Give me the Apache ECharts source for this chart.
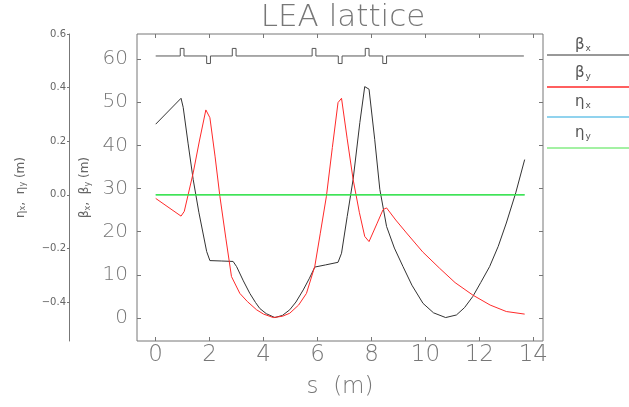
<!DOCTYPE html>
<html>
<head>
<meta charset="utf-8">
<script src="https://cdn.jsdelivr.net/npm/echarts@6/dist/echarts.min.js"></script>
<style>
  html, body { margin: 0; padding: 0; background: #fff; }
  #chart { width: 629px; height: 407px; }
</style>
</head>
<body>
<div id="chart"></div>
<script>
// beta functions (s in m, beta in m)
const sBetaX = [0, 0.94, 1.02, 1.2, 1.39, 1.6, 1.89, 2.01, 2.45, 2.87, 3.0, 3.25, 3.49, 3.7, 3.86, 4.1, 4.42, 4.7, 4.97, 5.2, 5.47, 5.7, 5.9, 6.3, 6.76, 6.89, 7.1, 7.32, 7.57, 7.75, 7.91, 8.12, 8.31, 8.56, 8.85, 9.17, 9.5, 9.91, 10.3, 10.75, 11.15, 11.45, 11.76, 12.05, 12.38, 12.7, 13.0, 13.35, 13.68]
const betaX = [44.9, 50.9, 48.8, 40.5, 32.1, 24.5, 15.4, 13.3, 13.2, 13.1, 11.9, 8.6, 5.7, 3.6, 2.2, 1.0, 0.1, 0.6, 1.9, 3.7, 6.5, 9.2, 11.8, 12.3, 12.9, 15, 23.5, 32.1, 45.3, 53.6, 53, 41.4, 29.8, 21.2, 16.2, 11.9, 7.6, 3.4, 1.2, 0.1, 0.7, 2.4, 5, 8.2, 11.9, 16.6, 22, 29, 36.7]

const sBetaY = [0, 0.94, 1.06, 1.39, 1.62, 1.86, 2.01, 2.2, 2.38, 2.6, 2.81, 3.12, 3.4, 3.74, 4.0, 4.36, 4.7, 4.97, 5.3, 5.59, 5.9, 6.1, 6.33, 6.55, 6.76, 6.89, 7.1, 7.32, 7.55, 7.75, 7.91, 8.2, 8.43, 8.56, 8.9, 9.3, 9.9, 10.53, 11.1, 11.76, 12.4, 13.0, 13.68]
const betaY = [27.7, 23.6, 24.7, 33.6, 41, 48.2, 46.4, 37.5, 28.2, 18.5, 9.6, 5.7, 3.8, 1.9, 0.9, 0.1, 0.4, 1.1, 3.0, 5.7, 12, 19.5, 28.2, 39.5, 49.9, 50.9, 41.5, 32.1, 24.5, 18.9, 17.7, 21.8, 25.1, 25.5, 22.7, 19.7, 15.3, 11.5, 8.2, 5.3, 3.0, 1.5, 0.9]

// dispersion (m)
const sEta = [0, 13.68]
const etaX = [0, 0]
const etaY = [0, 0]

// lattice: focusing (up) and defocusing (down) quads
const qfS = [0.98, 2.91, 5.87, 7.84]
const qdS = [1.96, 6.84, 8.49]
const quadLen = 0.14
const latticeEnd = 13.65
const latticeBase = 60.7
const latticeAmp = 1.75

// axis ranges and tick labels
const sRange = [-0.693, 14.36]
const sTicks = [0, 2, 4, 6, 8, 10, 12, 14]
const betaRange = [-5.33, 65.79]
const betaTicks = [0, 10, 20, 30, 40, 50, 60]
const etaRange = [-0.5455, 0.6]
const etaTicks = [-0.4, -0.2, 0, 0.2, 0.4, 0.6]

const legendNames = ['{g|β}{s|x}', '{g|β}{s|y}', '{g|η}{s|x}', '{g|η}{s|y}']
const legendColors = ['#333333', '#ff2a2a', '#6cc4e8', '#84ec84']

const pair = (xs, ys) => xs.map((x, i) => [x, ys[i]])

const latticeLine = () => {
  const elems = qfS.map(s => [s, 1]).concat(qdS.map(s => [s, -1]))
    .sort((a, b) => a[0] - b[0])
  const pts = [[0, latticeBase]]
  elems.forEach(([s, dir]) => {
    const a = s - quadLen / 2
    const b = s + quadLen / 2
    const h = latticeBase + dir * latticeAmp
    pts.push([a, latticeBase], [a, h], [b, h], [b, latticeBase])
  })
  pts.push([latticeEnd, latticeBase])
  return pts
}

const gray = '#777'
const font = 'DejaVu Sans'

const richName = {
  g: { fontSize: 12, color: '#666', fontFamily: font },
  s: { fontSize: 8, color: '#666', fontFamily: font, padding: [5, 0, 0, 0] },
  t: { fontSize: 12, color: '#666', fontFamily: font }
}

const legendGraphics = []
legendNames.forEach((name, i) => {
  const textY = [48, 76, 105, 136][i]
  const lineY = [55, 87, 117, 148][i]
  legendGraphics.push({
    type: 'text',
    left: 575,
    top: textY - 10,
    style: {
      text: name,
      rich: {
        g: { fontSize: 15, fill: '#555', fontFamily: font },
        s: { fontSize: 9, fill: '#555', fontFamily: font, padding: [7, 0, 0, 1] }
      }
    }
  })
  legendGraphics.push({
    type: 'line',
    shape: { x1: 547, y1: lineY, x2: 629, y2: lineY },
    style: { stroke: legendColors[i], lineWidth: i === 0 ? 1 : 1.5 }
  })
})

const tick = { inside: true, length: 4, lineStyle: { color: gray } }
const noLine = { show: false, onZero: false }
const bigLabel = { fontSize: 20, color: '#777', fontFamily: font, fontWeight: 200 }

const chart = echarts.init(document.getElementById('chart'), null, { renderer: 'canvas' })

chart.setOption({
  animation: false,
  backgroundColor: '#fff',
  title: {
    text: 'LEA lattice',
    left: 338,
    top: -3,
    textAlign: 'center',
    textStyle: { fontSize: 31, fontWeight: 200, color: '#777', fontFamily: font }
  },
  grid: [
    { left: 137, top: 34, width: 406, height: 307, show: true, borderColor: gray, borderWidth: 1 },
    { left: 69, top: 34, width: 60, height: 307 }
  ],
  xAxis: [
    {
      gridIndex: 0, type: 'value', position: 'bottom',
      min: sRange[0], max: sRange[1],
      axisLine: noLine,
      axisTick: { ...tick, customValues: sTicks },
      splitLine: { show: false },
      axisLabel: { ...bigLabel, fontSize: 23, margin: 3, customValues: sTicks },
      name: 's  (m)', nameLocation: 'middle', nameGap: 35,
      nameTextStyle: { fontSize: 23, color: '#777', fontFamily: font, fontWeight: 200 }
    },
    {
      gridIndex: 0, type: 'value', position: 'top',
      min: sRange[0], max: sRange[1],
      axisLine: noLine,
      axisTick: { ...tick, customValues: sTicks },
      splitLine: { show: false },
      axisLabel: { show: false }
    },
    { gridIndex: 1, type: 'value', min: 0, max: 1, show: false }
  ],
  yAxis: [
    {
      gridIndex: 0, type: 'value', position: 'left',
      min: betaRange[0], max: betaRange[1],
      axisLine: noLine,
      axisTick: { ...tick, customValues: betaTicks },
      splitLine: { show: false },
      axisLabel: { ...bigLabel, margin: 9, customValues: betaTicks },
      name: '{g|β}{s|x}{t|,  }{g|β}{s|y}{t| (m)}', nameLocation: 'middle', nameGap: 40, nameRotate: 90,
      nameTextStyle: { rich: richName }
    },
    {
      gridIndex: 0, type: 'value', position: 'right',
      min: betaRange[0], max: betaRange[1],
      axisLine: noLine,
      axisTick: { ...tick, customValues: betaTicks },
      splitLine: { show: false },
      axisLabel: { show: false }
    },
    {
      gridIndex: 0, type: 'value', position: 'right', show: false,
      min: etaRange[0], max: etaRange[1]
    },
    {
      gridIndex: 1, type: 'value', position: 'left',
      min: etaRange[0], max: etaRange[1],
      axisLine: { show: true, onZero: false, lineStyle: { color: gray } },
      axisTick: { length: 2, lineStyle: { color: gray }, customValues: etaTicks },
      splitLine: { show: false },
      axisLabel: {
        fontSize: 10, color: '#666', margin: 3, fontFamily: font,
        customValues: etaTicks,
        formatter: v => (Math.abs(v) < 1e-9 ? 0 : v).toFixed(1).replace('-', '\u2212')
      },
      name: '{g|η}{s|x}{t|,  }{g|η}{s|y}{t| (m)}', nameLocation: 'middle', nameGap: 42, nameRotate: 90,
      nameTextStyle: { rich: richName }
    }
  ],
  series: [
    {
      name: 'lattice', type: 'line', xAxisIndex: 0, yAxisIndex: 0,
      data: latticeLine(), showSymbol: false, silent: true,
      lineStyle: { color: '#555', width: 1 }
    },
    {
      name: 'betax', type: 'line', xAxisIndex: 0, yAxisIndex: 0,
      data: pair(sBetaX, betaX), showSymbol: false,
      lineStyle: { color: legendColors[0], width: 1 }
    },
    {
      name: 'betay', type: 'line', xAxisIndex: 0, yAxisIndex: 0,
      data: pair(sBetaY, betaY), showSymbol: false,
      lineStyle: { color: legendColors[1], width: 1 }
    },
    {
      name: 'etax', type: 'line', xAxisIndex: 0, yAxisIndex: 2,
      data: pair(sEta, etaX), showSymbol: false,
      lineStyle: { color: legendColors[2], width: 1 }
    },
    {
      name: 'etay', type: 'line', xAxisIndex: 0, yAxisIndex: 2,
      data: pair(sEta, etaY), showSymbol: false,
      lineStyle: { color: '#22e822', width: 1.2 }
    }
  ],
  graphic: legendGraphics
})
</script>
</body>
</html>
